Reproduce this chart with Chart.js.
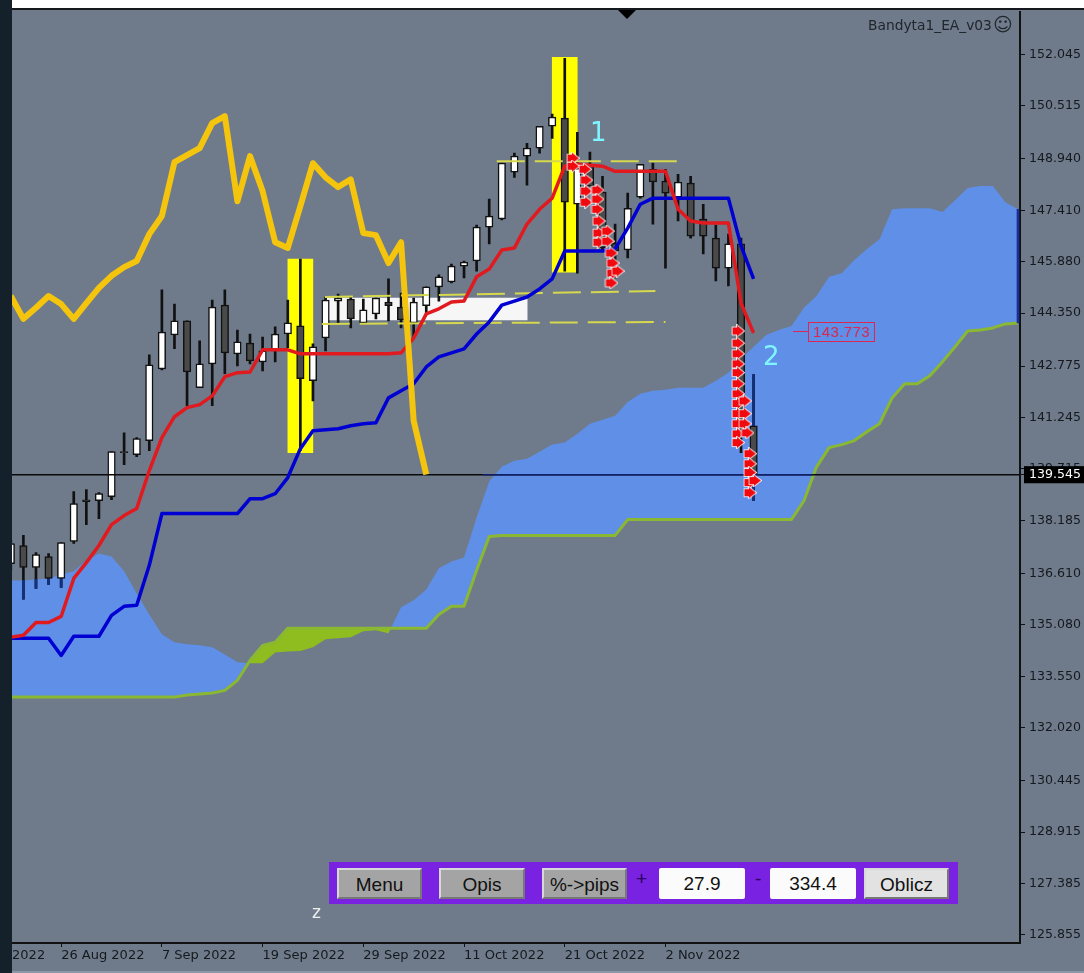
<!DOCTYPE html>
<html>
<head>
<meta charset="utf-8">
<title>Bandyta1_EA_v03</title>
<script src="https://cdn.jsdelivr.net/npm/chart.js@4"></script>
<style>
  html,body{margin:0;padding:0;width:1084px;height:973px;overflow:hidden;background:#6f7b8b}
  canvas{position:absolute;left:0;top:0}
  .abs{position:absolute}
  #topStrip{left:0;top:0;width:1084px;height:8px;background:#fff;border-bottom:2px solid #15181c}
  #leftStrip{left:0;top:0;width:12px;height:973px;background:#14212a}
  #bottomStrip{left:12px;top:971px;width:1072px;height:2px;background:#8b97a6}
  #tri{left:618px;top:10px;width:18px;height:9px;background:#000;clip-path:polygon(0 0,100% 0,50% 100%)}
  #ea{left:868px;top:17px;font:13.8px "DejaVu Sans";color:#20262c;white-space:nowrap}
  #smile{left:993px;top:13px;font:19px "DejaVu Sans";color:#20262c}
  .num{font:26px "DejaVu Sans";color:#7ff5ff}
  #z{left:312px;top:902px;font:17px "DejaVu Sans";color:#eee}
  #stopLine{left:793px;top:331px;width:15px;height:1px;background:#dc2850}
  #stopBox{left:808px;top:322px;width:65px;height:18px;border:1px solid #dc2850;font:15px/18px "Liberation Sans";color:#d8284f;text-align:center;letter-spacing:.4px}
  #panel{left:329px;top:862px;width:629px;height:42px;background:#7a22e2}
  .btn{position:absolute;top:6px;height:31px;box-sizing:border-box;font:19px/30px "Liberation Sans";color:#111;text-align:center;border-left:2px solid #d8d8d8;border-top:2px solid #d8d8d8;border-bottom:2px solid #777;border-right:2px solid #777}
  .grey{background:#a4a4a4}
  .field{background:#fbfbfb;border:none;border-radius:2px;line-height:31px}
  .light{background:#e2e2e2}
  .sign{position:absolute;top:6px;font:19px "Liberation Sans";color:#2a0060}
</style>
</head>
<body>
<canvas id="chart" width="1084" height="973"></canvas>
<div id="topStrip" class="abs"></div>
<div id="leftStrip" class="abs"></div>
<div id="bottomStrip" class="abs"></div>
<div id="tri" class="abs"></div>
<div id="ea" class="abs">Bandyta1_EA_v03</div>
<div id="smile" class="abs">☺</div>
<div class="abs num" style="left:590px;top:117px">1</div>
<div class="abs num" style="left:763px;top:341px">2</div>
<div id="z" class="abs">z</div>
<div id="stopLine" class="abs"></div>
<div id="stopBox" class="abs">143.773</div>
<div id="panel" class="abs">
  <div class="btn grey" style="left:8px;width:85px">Menu</div>
  <div class="btn grey" style="left:110px;width:86px">Opis</div>
  <div class="btn grey" style="left:213px;width:85px">%-&gt;pips</div>
  <div class="sign" style="left:307px">+</div>
  <div class="btn field" style="left:330px;width:86px">27.9</div>
  <div class="sign" style="left:426px">-</div>
  <div class="btn field" style="left:441px;width:86px">334.4</div>
  <div class="btn light" style="left:535px;width:85px">Oblicz</div>
</div>

<script>
// candles, one entry per bar
const opens  = [136.90,137.44,136.79,137.11,136.46,137.56,138.80,138.77,138.89,140.23,140.14,140.56,142.69,143.70,144.12,142.13,142.84,144.59,143.14,143.46,142.90,143.23,143.73,143.97,142.34,143.61,144.71,144.77,144.06,144.33,144.68,144.53,144.06,144.57,145.13,145.28,145.75,145.90,146.91,147.15,148.54,149.02,149.26,149.91,150.15,147.59,148.78,147.95,146.43,146.23,147.80,148.63,148.28,147.80,148.22,147.15,146.58,145.69,146.41,141.00];
const highs  = [137.59,137.74,137.23,137.20,137.53,139.04,139.10,139.01,140.23,140.79,140.65,143.11,145.04,144.62,144.12,143.53,144.74,145.04,143.85,143.73,143.64,143.94,144.74,145.96,143.44,144.83,144.92,144.83,144.77,144.80,145.37,144.95,144.80,145.13,145.49,145.81,145.90,146.97,147.74,148.81,149.11,149.40,149.91,150.27,151.93,149.73,149.14,148.42,147.00,147.92,148.78,148.81,148.63,148.48,148.42,147.59,146.97,146.70,146.58,142.52];
const lows   = [136.70,135.84,136.16,136.28,136.19,137.50,138.06,138.24,138.80,139.84,140.08,140.26,142.66,143.29,141.60,142.13,141.60,142.55,142.78,142.84,142.63,142.90,143.32,140.26,141.74,143.23,144.06,143.91,144.06,144.18,144.12,143.91,143.61,144.33,144.71,145.25,145.40,145.60,146.41,147.12,148.39,148.16,149.11,149.55,145.60,145.54,148.13,146.20,145.40,145.99,147.77,147.00,145.69,147.09,146.58,146.11,145.31,145.16,140.20,138.77];
const closes = [137.50,136.79,137.17,136.46,137.53,138.69,138.74,138.98,140.23,140.20,140.62,142.81,143.79,144.12,142.60,142.84,144.53,143.17,143.50,142.93,143.23,143.73,144.06,142.40,143.35,144.74,144.80,144.18,144.45,144.80,144.57,144.15,144.68,145.13,145.43,145.75,145.87,146.91,147.24,148.81,149.02,149.26,149.91,150.18,147.65,148.66,148.13,146.29,146.20,147.47,148.78,148.25,147.92,148.25,146.64,146.64,145.69,146.41,141.00,139.55];

// ichimoku lines
const tenkan = [134.71,134.77,135.15,135.15,135.33,136.46,136.93,137.44,138.06,138.33,138.54,139.67,140.65,141.27,141.54,141.63,141.89,142.46,142.58,142.60,143.26,143.26,143.26,143.14,143.14,143.14,143.14,143.14,143.14,143.14,143.14,143.17,143.61,144.33,144.48,144.68,144.71,145.43,145.66,146.23,146.29,147.00,147.44,147.77,148.72,148.78,148.75,148.72,148.57,148.57,148.57,148.57,148.57,147.44,147.09,147.03,147.03,147.03,144.65,143.76];
const kijun  = [134.68,134.68,134.68,134.68,134.17,134.74,134.74,134.74,135.36,135.63,135.66,136.85,138.39,138.39,138.39,138.39,138.39,138.39,138.39,138.83,138.83,138.98,139.46,140.32,140.85,140.88,140.91,141.00,141.06,141.09,141.83,142.04,142.25,142.75,143.05,143.17,143.29,143.73,144.09,144.59,144.71,144.83,145.07,145.37,146.20,146.20,146.20,146.20,146.26,146.88,147.59,147.77,147.77,147.77,147.77,147.77,147.77,147.77,146.35,145.37];
const chikou = [144.86,144.18,144.51,144.86,144.62,144.18,144.65,145.10,145.46,145.72,145.90,146.70,147.24,148.84,149.05,149.26,150.00,150.21,147.68,149.02,147.98,146.46,146.29,147.53,148.81,148.39,148.10,148.33,146.73,146.67,145.84,146.46,141.15,139.55];
const spanA  = [136.40,136.40,136.43,136.46,136.58,136.67,136.99,137.20,137.11,136.67,136.01,135.39,134.80,134.56,134.50,134.47,134.41,134.20,133.97,133.94,133.94,134.26,134.29,134.30,134.41,134.65,134.68,134.71,134.89,134.92,134.83,135.60,135.81,136.13,136.76,136.96,137.08,138.27,139.34,139.78,139.96,140.02,140.23,140.44,140.50,140.76,141.06,141.18,141.30,141.71,141.95,142.04,142.07,142.13,142.13,142.13,142.34,142.58,142.99,143.35,143.70,143.85,143.97,144.51,144.86,145.43,145.54,145.93,146.26,146.55,147.44,147.47,147.47,147.47,147.36,147.71,148.07,148.13,148.13,147.65,147.44];
const spanB  = [132.93,132.93,132.93,132.93,132.93,132.93,132.93,132.93,132.93,132.93,132.93,132.93,132.93,132.93,132.99,133.02,133.05,133.13,133.43,134.02,134.47,134.56,134.98,134.98,134.98,134.98,134.98,134.98,134.98,134.98,134.98,134.98,134.98,134.98,135.39,135.63,135.63,136.70,137.71,137.74,137.74,137.74,137.74,137.74,137.74,137.74,137.74,137.74,137.74,138.21,138.21,138.21,138.21,138.21,138.21,138.21,138.21,138.21,138.21,138.21,138.21,138.21,138.21,138.77,139.78,140.35,140.44,140.56,140.82,141.06,141.83,142.25,142.25,142.49,142.90,143.35,143.82,143.85,143.91,144.03,144.06];

// parts of the wicks that sit inside the cloud
const cloudWickBar = [1,2,3,4,59,59];
const cloudWickHi  = [136.40,136.43,136.46,136.46,142.52,139.55];
const cloudWickLo  = [135.84,136.16,136.28,136.19,141.00,138.77];

// highlight boxes
const yellowBar = [23,44];
const yellowHi  = [145.96,151.96];
const yellowLo  = [140.20,145.57];
const whiteBoxBar = [33.07];
const whiteBoxHi  = [144.80];
const whiteBoxLo  = [144.15];

// dashed levels
const level1X = [38.6,53.1],  level1Y = [148.87,148.87];
const level2X = [24.95,51.2], level2Y = [144.83,145.01];
const level3X = [24.7,52],    level3Y = [144.03,144.09];

// current price
const priceNow = 139.545;
const priceX = [0,80.16];
const priceCloudX = [37.5,63.7];

// sell arrows
const arrowX = [44.65,44.65,45.6,45.7,45.7,45.7,46.6,46.6,46.6,46.7,46.7,46.7,47.4,47.4,47.7,47.8,47.8,48.2,47.7,57.76,57.76,57.76,57.76,57.76,57.76,57.76,57.76,57.76,57.76,57.76,57.76,58.3,58.3,58.3,58.5,58.7,58.7,58.7,58.7,59.1,58.7];
const arrowY = [148.96,148.72,148.63,148.31,147.98,147.65,148.01,147.74,147.44,147.09,146.73,146.46,146.79,146.49,146.14,145.84,145.54,145.60,145.25,143.82,143.46,143.14,142.84,142.58,142.25,141.95,141.66,141.36,141.06,140.76,140.50,141.74,141.36,141.06,140.79,140.17,139.87,139.61,139.31,139.37,139.01];

// axes
const xTickBars = [0.1,4,12,20,28,36,44,52];
const xTickLabels = ['2022','26 Aug 2022','7 Sep 2022','19 Sep 2022','29 Sep 2022','11 Oct 2022','21 Oct 2022','2 Nov 2022'];
const yTicks = [125.855,127.385,128.915,130.445,132.020,133.550,135.080,136.610,138.185,139.715,139.545,141.245,142.775,144.350,145.880,147.410,148.940,150.515,152.045];

const bars = opens.map((_, i) => i);
const series = (xs, ys) => xs.map((x, i) => ({x, y: ys[i]}));
const ranges = (xs, a, b) => xs.map((x, i) => ({x, y: [a[i], b[i]]}));
const index = arr => arr.map((_, i) => i);

// small red arrow with white edge, used as point style
const arrow = document.createElement('canvas');
arrow.width = 14; arrow.height = 13;
(function() {
  const c = arrow.getContext('2d');
  c.beginPath();
  c.moveTo(1.5,3); c.lineTo(6,3); c.lineTo(6,1); c.lineTo(13,6.5); c.lineTo(6,12); c.lineTo(6,10); c.lineTo(1.5,10);
  c.closePath();
  c.lineWidth = 1.6; c.strokeStyle = '#fff'; c.stroke();
  c.fillStyle = '#f00a10'; c.fill();
})();

const line = (data, color, width, order, extra) => Object.assign({
  type: 'line', data, borderColor: color, borderWidth: width, pointRadius: 0, tension: 0, fill: false, borderJoinStyle: 'round', order
}, extra || {});

new Chart(document.getElementById('chart'), {
  type: 'bar',
  data: {
    datasets: [
      line(series(index(spanA), spanA), 'rgba(0,0,0,0)', 0, 100, {
        fill: {target: 1, above: '#5f8fe6', below: '#8fbc1e'}
      }),
      line(series(index(spanB), spanB), '#8ab833', 3, 95),
      {data: ranges(whiteBoxBar, whiteBoxHi, whiteBoxLo), backgroundColor: '#f6f6f6', barThickness: 200, order: 90},
      {data: ranges(yellowBar, yellowHi, yellowLo), backgroundColor: '#ffff00', barThickness: 25, order: 85},
      {data: ranges(bars, highs, lows), backgroundColor: '#111', barThickness: 2, order: 60},
      {data: ranges(cloudWickBar, cloudWickHi, cloudWickLo), backgroundColor: '#14307a', barThickness: 2, order: 58},
      {data: ranges(bars, opens, closes),
        backgroundColor: bars.map(i => closes[i] >= opens[i] ? '#fff' : '#4a4a4a'),
        borderColor: '#111', borderWidth: 1.5, borderSkipped: false, barThickness: 7.5, order: 55},
      {data: [{x: 80, y: [spanA[80], spanB[80]]}], backgroundColor: '#1a2f9a', barThickness: 2, order: 52},
      line(series(priceX, priceX.map(() => priceNow)), '#0a0a0a', 1.5, 50),
      line(series(priceCloudX, priceCloudX.map(() => priceNow)), '#10206e', 1.5, 49),
      line(series(level1X, level1Y), '#d6d84e', 2, 40, {borderDash: [28, 10]}),
      line(series(level2X, level2Y), '#d6d84e', 2, 40, {borderDash: [28, 10]}),
      line(series(level3X, level3Y), '#d6d84e', 2, 40, {borderDash: [28, 10]}),
      line(series(index(kijun), kijun), '#0000d2', 3.5, 30),
      line(series(index(tenkan), tenkan), '#e01a1e', 3.5, 25),
      line(series(index(chikou), chikou), '#f5c50d', 6, 20),
      {type: 'scatter', data: series(arrowX, arrowY), pointStyle: arrow, pointRadius: 6, order: 10}
    ]
  },
  options: {
    responsive: false,
    animation: false,
    events: [],
    layout: {padding: {left: 12, top: 10, right: 0, bottom: 0}},
    datasets: {bar: {grouped: false}},
    plugins: {legend: {display: false}, tooltip: {enabled: false}},
    scales: {
      x: {
        type: 'linear', min: 0.095, max: 80.16, offset: false,
        grid: {drawOnChartArea: false, offset: false, tickLength: 4, tickColor: c => c.index === 0 ? 'rgba(0,0,0,0)' : '#111'},
        border: {color: '#111', width: 2},
        afterBuildTicks: s => { s.ticks = xTickBars.map(value => ({value})); },
        afterFit: s => { s.height = 30; },
        ticks: {
          autoSkip: false, maxRotation: 0, minRotation: 0, align: 'start', padding: 1,
          color: '#15191e', font: {family: 'DejaVu Sans', size: 13},
          callback: (v, i) => xTickLabels[i]
        }
      },
      y: {
        type: 'linear', position: 'right', min: 125.617, max: 153.32,
        grid: {drawOnChartArea: false, tickLength: 5, tickColor: '#111'},
        border: {color: '#111', width: 2},
        afterBuildTicks: s => { s.ticks = yTicks.map(value => ({value})); },
        afterFit: s => { s.width = 64; },
        ticks: {
          autoSkip: false, padding: 4,
          font: {family: 'DejaVu Sans', size: 12.6},
          color: c => c.tick && c.tick.value === priceNow ? '#fff' : '#15191e',
          showLabelBackdrop: c => !!c.tick && c.tick.value === priceNow,
          backdropColor: '#000',
          backdropPadding: {left: 5, right: 6, top: 1, bottom: 1},
          callback: v => v.toFixed(3)
        }
      }
    }
  }
});
</script>
</body>
</html>
